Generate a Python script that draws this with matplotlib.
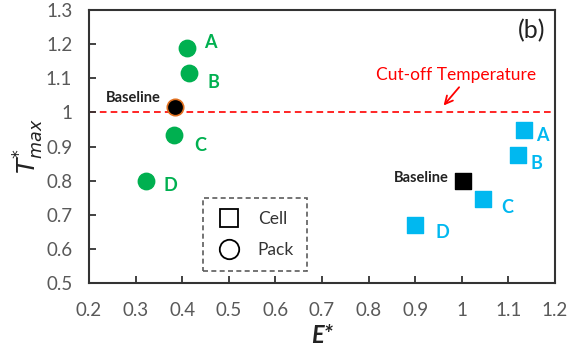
import matplotlib
matplotlib.use('Agg')
import matplotlib.pyplot as plt
from matplotlib.lines import Line2D

plt.rcParams['font.family'] = ['Lato', 'DejaVu Sans']

# pack (circles)
pack_labels = ['A', 'B', 'C', 'D']
pack_x = [0.41, 0.415, 0.382, 0.322]
pack_y = [1.189, 1.115, 0.933, 0.799]
pack_base = (0.385, 1.016)

# cell (squares)
cell_labels = ['A', 'B', 'C', 'D']
cell_x = [1.133, 1.12, 1.045, 0.90]
cell_y = [0.948, 0.875, 0.746, 0.67]
cell_base = (1.003, 0.80)

cutoff = 1.0
xticks = [0.2, 0.3, 0.4, 0.5, 0.6, 0.7, 0.8, 0.9, 1, 1.1, 1.2]
yticks = [0.5, 0.6, 0.7, 0.8, 0.9, 1, 1.1, 1.2, 1.3]

green = '#00B050'
cyan = '#00B8F0'
gray = '#595959'

fig = plt.figure(figsize=(5.74, 3.6), dpi=100)
ax = fig.add_axes([0.155, 0.214, 0.812, 0.758])

ax.axhline(cutoff, color='#FF0000', ls='--', lw=1.2, dashes=(4, 2.5), zorder=1)

ax.scatter(pack_x, pack_y, s=140, marker='o', color=green, zorder=3)
ax.scatter([pack_base[0]], [pack_base[1]], s=140, marker='o', color='black',
           edgecolors='#E07020', linewidths=1.2, zorder=4)
ax.scatter(cell_x, cell_y, s=140, marker='s', color=cyan, zorder=3)
ax.scatter([cell_base[0]], [cell_base[1]], s=130, marker='s', color='black', zorder=4)

pack_off = [(23, 5), (24, -9), (26, -10), (25, -5)]
for lab, x, y, off in zip(pack_labels, pack_x, pack_y, pack_off):
    ax.annotate(lab, (x, y), xytext=off, textcoords='offset pixels', color=green,
                fontsize=13, fontweight='bold', ha='center', va='center')
cell_off = [(19, -5), (19, -8), (24, -8), (27, -8)]
for lab, x, y, off in zip(cell_labels, cell_x, cell_y, cell_off):
    ax.annotate(lab, (x, y), xytext=off, textcoords='offset pixels', color=cyan,
                fontsize=13, fontweight='bold', ha='center', va='center')

ax.annotate('Baseline', pack_base, xytext=(-14, 9), textcoords='offset pixels',
            fontsize=10.5, fontweight='bold', ha='right', va='center', color='#222222')
ax.annotate('Baseline', cell_base, xytext=(-14, 3), textcoords='offset pixels',
            fontsize=10.5, fontweight='bold', ha='right', va='center', color='#222222')

ax.text(0.988, 1.11, 'Cut-off Temperature', color='#FF0000', fontsize=12.5,
        ha='center', va='center')
ax.annotate('', xy=(0.957, 1.014), xytext=(0.998, 1.08),
            arrowprops=dict(arrowstyle='->', color='#FF0000', lw=1.3,
                            mutation_scale=14))

ax.text(1.18, 1.241, '(b)', fontsize=18, ha='right', va='center', color='#222222')

# legend box
handles = [Line2D([], [], marker='s', ls='none', markerfacecolor='white',
                  markeredgecolor='black', markersize=13, markeredgewidth=1.3),
           Line2D([], [], marker='o', ls='none', markerfacecolor='white',
                  markeredgecolor='black', markersize=14, markeredgewidth=1.3)]
leg = ax.legend(handles, ['Cell', 'Pack'], loc='lower left',
                bbox_to_anchor=(0.245, 0.045), fontsize=12.5, frameon=True,
                fancybox=False, borderpad=0.75, labelspacing=0.85, handletextpad=0.9,
                handlelength=1.5, borderaxespad=0)
leg.get_frame().set_edgecolor('#333333')
leg.get_frame().set_linestyle((0, (3, 2)))
leg.get_frame().set_linewidth(1.2)
for t in leg.get_texts():
    t.set_color('#333333')

ax.set_xlim(0.2, 1.2)
ax.set_ylim(0.5, 1.3)
ax.set_xticks(xticks)
ax.set_yticks(yticks)
ax.set_xticklabels([f'{v:g}' for v in xticks])
ax.set_yticklabels([f'{v:g}' for v in yticks])
ax.tick_params(direction='in', length=5, width=1.3, colors='#333333',
               labelcolor=gray, labelsize=13.5)
ax.tick_params(axis='x', pad=14)
ax.tick_params(axis='y', pad=12)
for sp in ax.spines.values():
    sp.set_linewidth(1.5)
    sp.set_color('#333333')

ax.set_xlabel('E*', fontsize=17, fontweight='bold', fontstyle='italic',
              color='#222222', labelpad=3)
ax.set_ylabel(r'$\mathbf{\mathit{T}}^{*}_{\mathbf{\mathit{max}}}$', fontsize=18,
              color='#222222', labelpad=0)

fig.savefig('out.png', dpi=100)
